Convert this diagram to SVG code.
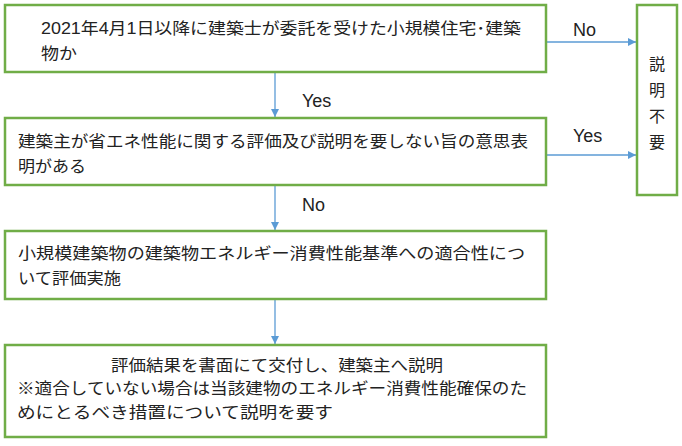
<svg xmlns="http://www.w3.org/2000/svg" width="682" height="446" viewBox="0 0 682 446">
<style>
.b{fill:#fff;stroke:#70AD47;stroke-width:2.5}
.t{font-family:"Liberation Sans","Noto Sans CJK JP",sans-serif;font-size:16px;fill:#222}
.l{font-family:"Liberation Sans","Noto Sans CJK JP",sans-serif;font-size:18px;fill:#222}
.c{stroke:#5B9BD5;stroke-width:1.3;fill:none;marker-end:url(#a)}
</style>
<defs><marker id="a" viewBox="0 0 10 10" refX="10" refY="5" markerWidth="8" markerHeight="8" markerUnits="userSpaceOnUse" orient="auto"><path d="M0,0L10,5L0,10z" fill="#5B9BD5"/></marker></defs>
<rect width="682" height="446" fill="#fff"/>
<g id="connectors">
<path class="c" d="M546,42H636"/>
<path class="c" d="M546,155H636"/>
<path class="c" d="M275,73V117"/>
<path class="c" d="M275,186V230"/>
<path class="c" d="M275,300V344"/>
<text class="l" x="573" y="36">No</text>
<text class="l" x="573" y="142">Yes</text>
<text class="l" x="302" y="107">Yes</text>
<text class="l" x="302" y="211">No</text>
</g>
<g id="n1"><rect class="b" x="5" y="5" width="541" height="67"/>
<text class="t" x="41" y="34" textLength="480" lengthAdjust="spacingAndGlyphs">2021年4月1日以降に建築士が委託を受けた小規模住宅･建築</text>
<text class="t" x="41" y="59" textLength="36" lengthAdjust="spacingAndGlyphs">物か</text></g>
<g id="n2"><rect class="b" x="5" y="118" width="541" height="67"/>
<text class="t" x="18" y="147" textLength="510" lengthAdjust="spacingAndGlyphs">建築主が省エネ性能に関する評価及び説明を要しない旨の意思表</text>
<text class="t" x="18" y="172" textLength="68" lengthAdjust="spacingAndGlyphs">明がある</text></g>
<g id="n3"><rect class="b" x="5" y="231" width="541" height="68"/>
<text class="t" x="18" y="259" textLength="507" lengthAdjust="spacingAndGlyphs">小規模建築物の建築物エネルギー消費性能基準への適合性につ</text>
<text class="t" x="18" y="284" textLength="103" lengthAdjust="spacingAndGlyphs">いて評価実施</text></g>
<g id="n4"><rect class="b" x="5" y="345" width="541" height="92"/>
<text class="t" x="111" y="371" textLength="332" lengthAdjust="spacingAndGlyphs">評価結果を書面にて交付し、建築主へ説明</text>
<text class="t" x="17" y="394" textLength="510" lengthAdjust="spacingAndGlyphs">※適合していない場合は当該建物のエネルギー消費性能確保のた</text>
<text class="t" x="17" y="418" textLength="316" lengthAdjust="spacingAndGlyphs">めにとるべき措置について説明を要す</text></g>
<g id="n5"><rect class="b" x="637" y="5" width="40" height="190"/>
<text class="t" x="657" y="70" text-anchor="middle">説</text>
<text class="t" x="657" y="96" text-anchor="middle">明</text>
<text class="t" x="657" y="122" text-anchor="middle">不</text>
<text class="t" x="657" y="148" text-anchor="middle">要</text></g>
</svg>
